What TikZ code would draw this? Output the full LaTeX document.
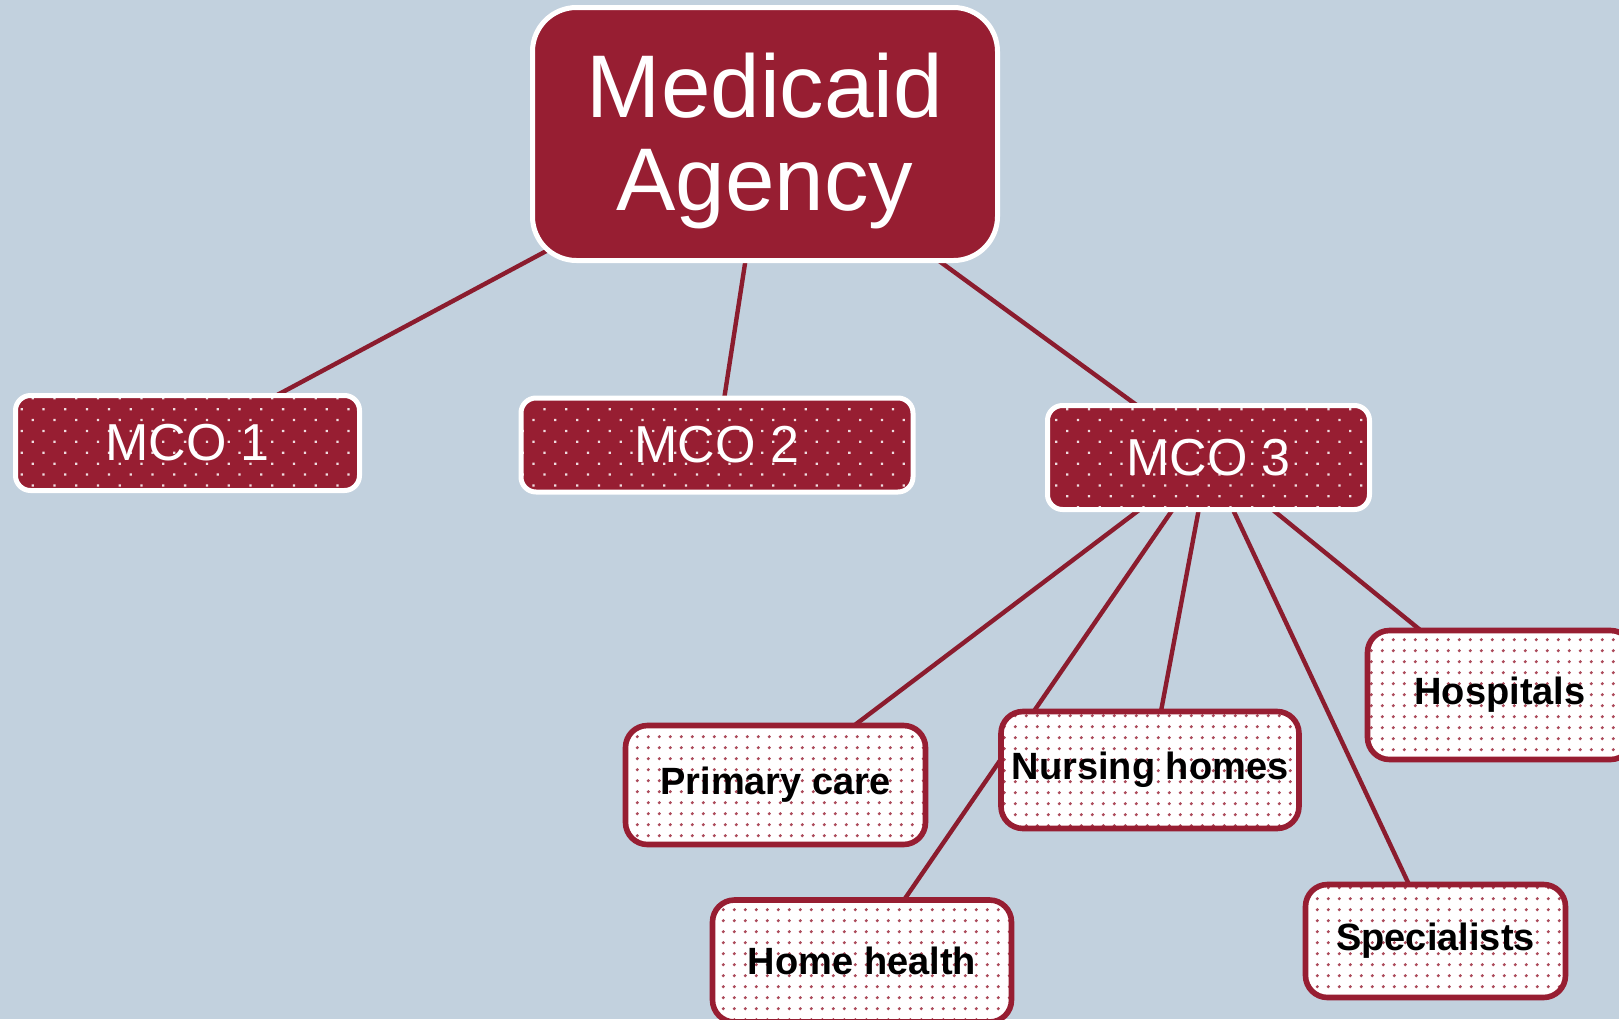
\documentclass[tikz,border=0pt]{standalone}
\usepackage{fontspec}
\setmainfont{Liberation Sans}
\usetikzlibrary{backgrounds,patterns.meta}
\definecolor{slate}{RGB}{194,209,222}
\definecolor{medred}{RGB}{151,30,50}

\begin{document}
\begin{tikzpicture}[x=0.5pt, y=-0.5pt,
  agencybox/.style={draw=white, line width=2.5pt, fill=medred, rounded corners=22pt, text=white, align=center, inner sep=0pt, font=\fontsize{44.5}{46.5}\selectfont},
  mcobox/.style={draw=white, line width=2.5pt, rounded corners=7.5pt, preaction={fill=medred}, pattern={Dots[distance=7.7pt, radius=0.8pt, angle=45]}, pattern color=white!85!medred, text=white, inner sep=0pt, font=\fontsize{26}{30}\selectfont},
  provbox/.style={draw=medred, line width=2.8pt, rounded corners=11pt, preaction={fill=white}, pattern={Dots[distance=5.4pt, radius=0.85pt]}, pattern color=medred!80!white, text=black, inner sep=0pt, font=\fontsize{19}{22}\bfseries\selectfont},
  link/.style={draw=medred!92!black, line width=2.2pt}]
\useasboundingbox (0,0) rectangle (1619,1019);
\node[agencybox, minimum width=232.5pt, minimum height=126.5pt] (agency) at (765,134) {\rule{0pt}{39.5pt}Medicaid\\Agency};
\node[mcobox, minimum width=172pt, minimum height=47.5pt] (mco1) at (187.5,443) {MCO 1};
\node[mcobox, minimum width=196pt, minimum height=47pt] (mco2) at (717,445) {MCO 2};
\node[mcobox, minimum width=161pt, minimum height=52pt] (mco3) at (1208.5,457.5) {MCO 3};
\node[provbox, minimum width=150pt, minimum height=59.5pt] (primary) at (775.5,785) {Primary care};
\node[provbox, minimum width=149pt, minimum height=58.5pt] (nursing) at (1150,770) {Nursing homes};
\node[provbox, minimum width=132.5pt, minimum height=64.5pt] (hospitals) at (1500,695) {Hospitals};
\node[provbox, minimum width=149.5pt, minimum height=61pt] (homehealth) at (862,961) {Home health};
\node[provbox, minimum width=130pt, minimum height=56.5pt] (specialists) at (1435.5,941) {Specialists};
\begin{pgfonlayer}{background}
\fill[slate] (0,0) rectangle (1619,1019);
\draw[link] (agency.center) -- (mco1.center);
\draw[link] (agency.center) -- (mco2.center);
\draw[link] (agency.center) -- (mco3.center);
\draw[link] (mco3.center) -- (primary.center);
\draw[link] (mco3.center) -- (homehealth.center);
\draw[link] (mco3.center) -- (nursing.center);
\draw[link] (mco3.center) -- (specialists.center);
\draw[link] (mco3.center) -- (hospitals.center);
\end{pgfonlayer}
\end{tikzpicture}
\end{document}
